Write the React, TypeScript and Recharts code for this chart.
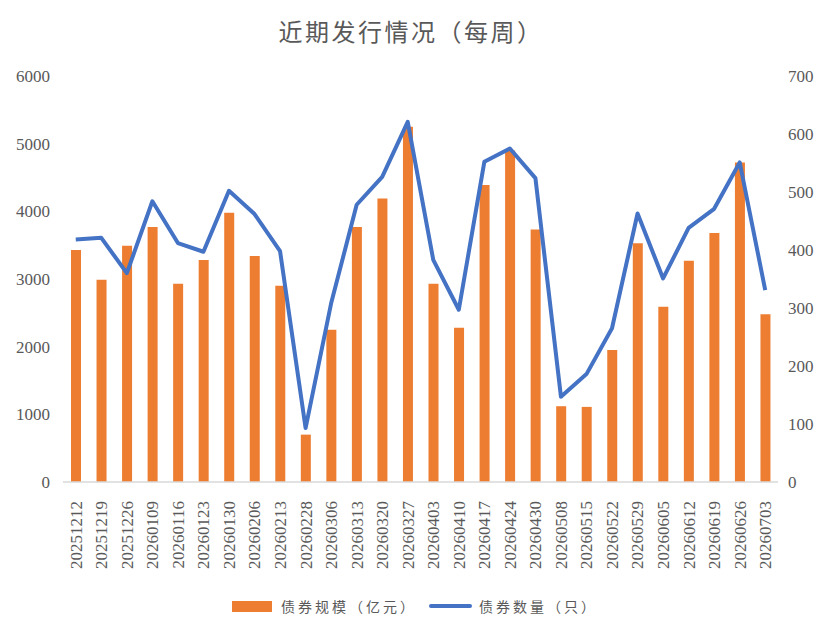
import React from 'react';
import {
  ComposedChart,
  Bar,
  Line,
  XAxis,
  YAxis,
  Legend,
} from 'recharts';

document.body.style.margin = '0';

const weeks = [
  '20251212', '20251219', '20251226', '20260109', '20260116', '20260123', '20260130',
  '20260206', '20260213', '20260228', '20260306', '20260313', '20260320', '20260327',
  '20260403', '20260410', '20260417', '20260424', '20260430', '20260508', '20260515',
  '20260522', '20260529', '20260605', '20260612', '20260619', '20260626', '20260703',
];

// 债券规模（亿元）
const scale = [
  3430, 2990, 3490, 3770, 2930, 3280, 3980,
  3340, 2900, 700, 2250, 3770, 4190, 5250,
  2930, 2280, 4390, 4900, 3730, 1120, 1110,
  1950, 3530, 2590, 3270, 3680, 4720, 2480,
];

// 债券数量（只）
const count = [
  418, 421, 360, 484, 412, 397, 502,
  462, 398, 93, 308, 478, 526, 621,
  383, 297, 552, 575, 524, 147, 186,
  265, 463, 351, 438, 471, 551, 331,
];

const leftTicks = [0, 1000, 2000, 3000, 4000, 5000, 6000];
const rightTicks = [0, 100, 200, 300, 400, 500, 600, 700];

const data = weeks.map((w, i) => ({ week: w, scale: scale[i], count: count[i] }));

const ORANGE = '#ED7D31';
const BLUE = '#4472C4';
const TEXT = '#595959';
const TICK_FONT = '"Liberation Serif", "DejaVu Serif", serif';
const CJK_FONT = '"Noto Sans CJK SC", "Noto Sans", sans-serif';

function WeekTick(props: any) {
  const { x, y, payload } = props;
  return (
    <text
      x={x}
      y={y + 11}
      dy="0.35em"
      transform={`rotate(-90, ${x}, ${y + 11})`}
      textAnchor="end"
      fill={TEXT}
      fontSize={17}
      fontFamily={TICK_FONT}
    >
      {payload.value}
    </text>
  );
}

function LegendBox() {
  const label: React.CSSProperties = {
    fontFamily: CJK_FONT,
    fontSize: 14,
    letterSpacing: 3,
    color: TEXT,
    whiteSpace: 'nowrap',
  };
  return (
    <div style={{ display: 'flex', justifyContent: 'center', alignItems: 'center', height: 20 }}>
      <span style={{ width: 40, height: 11, background: ORANGE, marginRight: 9 }} />
      <span style={label}>债券规模（亿元）</span>
      <span style={{ width: 43, height: 4, background: BLUE, borderRadius: 2, marginLeft: 12, marginRight: 7 }} />
      <span style={label}>债券数量（只）</span>
    </div>
  );
}

export default function App() {
  return (
    <div style={{ position: 'relative', width: 830, height: 635, background: '#fff' }}>
      <div
        style={{
          position: 'absolute',
          top: 16,
          left: 0,
          width: 822,
          textAlign: 'center',
          fontFamily: CJK_FONT,
          fontSize: 24,
          letterSpacing: 2.5,
          color: TEXT,
          lineHeight: '30px',
        }}
      >
        近期发行情况（每周）
      </div>
      <ComposedChart
        width={830}
        height={635}
        data={data}
        margin={{ top: 76, right: 0, bottom: 0, left: 0 }}
      >
        <XAxis
          dataKey="week"
          height={153}
          interval={0}
          axisLine={{ stroke: '#D9D9D9', strokeWidth: 1.5 }}
          tickLine={false}
          tick={<WeekTick />}
        />
        <YAxis
          yAxisId="left"
          width={63}
          domain={[0, 6000]}
          ticks={leftTicks}
          axisLine={false}
          tickLine={false}
          tickSize={0}
          tickMargin={13}
          tick={{ fill: TEXT, fontSize: 17, fontFamily: TICK_FONT }}
        />
        <YAxis
          yAxisId="right"
          orientation="right"
          width={52}
          domain={[0, 700]}
          ticks={rightTicks}
          axisLine={false}
          tickLine={false}
          tickSize={0}
          tickMargin={10}
          tick={{ fill: TEXT, fontSize: 17, fontFamily: TICK_FONT, textAnchor: 'start' }}
        />
        <Legend
          layout="horizontal"
          verticalAlign="middle"
          align="center"
          content={<LegendBox />}
          wrapperStyle={{ top: 596, left: 0, width: 830, height: 20 }}
        />
        <Bar
          yAxisId="left"
          dataKey="scale"
          name="债券规模（亿元）"
          fill={ORANGE}
          barSize={10}
          isAnimationActive={false}
        />
        <Line
          yAxisId="right"
          dataKey="count"
          name="债券数量（只）"
          type="linear"
          stroke={BLUE}
          strokeWidth={4}
          strokeLinejoin="round"
          dot={false}
          activeDot={false}
          isAnimationActive={false}
        />
      </ComposedChart>
    </div>
  );
}
